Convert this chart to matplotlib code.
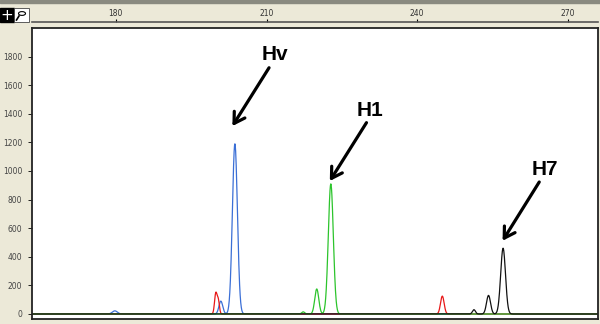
import numpy as np
import matplotlib.pyplot as plt
from matplotlib.patches import Rectangle, Circle

# peak lists: position (bp), height (RFU), width (sigma, bp)
blue_pos = [179.8, 200.9, 203.7]
blue_hgt = [22, 90, 1190]
blue_wid = [0.5, 0.38, 0.5]
red_pos = [199.9, 200.4, 245.0]
red_hgt = [145, 90, 125]
red_wid = [0.25, 0.22, 0.36]
green_pos = [217.3, 220.0, 222.8]
green_hgt = [15, 175, 910]
green_wid = [0.3, 0.4, 0.5]
black_pos = [251.3, 254.2, 257.1]
black_hgt = [30, 130, 460]
black_wid = [0.3, 0.4, 0.48]

x_ticks = [180, 210, 240, 270]
y_ticks = [0, 200, 400, 600, 800, 1000, 1200, 1400, 1600, 1800]

# annotations: label, label position, arrow tail, arrow tip
labels = ["Hv", "H1", "H7"]
label_xy = [(211.7, 1814), (230.6, 1424), (265.5, 1012)]
tail_xy = [(210.5, 1722), (229.9, 1338), (264.3, 923)]
tip_xy = [(203.2, 1314), (222.6, 930), (257.0, 512)]

BG = "#ECE9D8"
W, H = 600, 324


def trace(x, pos, hgt, wid):
    y = np.zeros_like(x)
    for p, h, w in zip(pos, hgt, wid):
        y += h * np.exp(-0.5 * ((x - p) / w) ** 2)
    return y


fig = plt.figure(figsize=(6, 3.24), dpi=100, facecolor=BG)
ax = fig.add_axes([32 / W, 5 / H, 566 / W, 291 / H])
ax.set_facecolor("white")
ax.set_xlim(163.3, 276.0)
ax.set_ylim(-35, 2000)

x = np.linspace(163.3, 276.0, 3000)
for pos, hgt, wid, c in [(blue_pos, blue_hgt, blue_wid, "#3b6fd6"),
                         (red_pos, red_hgt, red_wid, "#e81818"),
                         (green_pos, green_hgt, green_wid, "#2cc42c"),
                         (black_pos, black_hgt, black_wid, "#111111")]:
    ax.plot(x, trace(x, pos, hgt, wid), color=c, lw=0.9)

ax.set_xticks([])
ax.set_yticks(y_ticks)
ax.set_yticklabels([str(v) for v in y_ticks], fontsize=5.5, color="#444444")
ax.tick_params(axis="y", direction="out", length=3, width=0.6, pad=4)
for s in ax.spines.values():
    s.set_color("#222222")
    s.set_linewidth(1.3)

for lab, lxy, txy, hxy in zip(labels, label_xy, tail_xy, tip_xy):
    ax.text(lxy[0], lxy[1], lab, fontsize=15, fontweight="bold",
            family="Liberation Sans", ha="center", va="center")
    ax.annotate("", xy=hxy, xytext=txy,
                arrowprops=dict(arrowstyle="->,head_length=0.75,head_width=0.45",
                                color="black", lw=2.3, shrinkA=0, shrinkB=0))

# top ruler
rul = fig.add_axes([32 / W, 1 - 22.5 / H, 566 / W, 0.0001])
rul.set_xlim(ax.get_xlim())
rul.set_yticks([])
for k in ["left", "right", "bottom"]:
    rul.spines[k].set_visible(False)
rul.spines["top"].set_color("#555555")
rul.spines["top"].set_linewidth(1.2)
rul.xaxis.tick_top()
rul.set_xticks(x_ticks)
rul.set_xticklabels([str(v) for v in x_ticks], fontsize=5.5, color="#333333")
rul.tick_params(axis="x", direction="out", length=2, width=0.8, pad=1)
rul.set_facecolor(BG)

# toolbar bits
fig.add_artist(Rectangle((0, 1 - 3 / H), 1, 3 / H, transform=fig.transFigure,
                         color="#8a8a80", zorder=5))
fig.add_artist(Rectangle((0, 1 - 22 / H), 14 / W, 14 / H, transform=fig.transFigure,
                         color="black", zorder=5))
fig.text(7 / W, 1 - 15 / H, "+", color="white", fontsize=11, ha="center",
         va="center", zorder=6)
fig.add_artist(Rectangle((14 / W, 1 - 22 / H), 15 / W, 14 / H, transform=fig.transFigure,
                         facecolor="white", edgecolor="#444444", lw=0.6, zorder=5))
fig.add_artist(Circle((22 / W, 1 - 13.5 / H), 3.5 / W, transform=fig.transFigure,
                      facecolor="none", edgecolor="black", lw=0.8, zorder=6))
fig.add_artist(plt.Line2D([19 / W, 16.5 / W], [1 - 16 / H, 1 - 20 / H],
                          transform=fig.transFigure, color="black", lw=1.2, zorder=6))

fig.savefig("out.png", dpi=100, facecolor=BG)
